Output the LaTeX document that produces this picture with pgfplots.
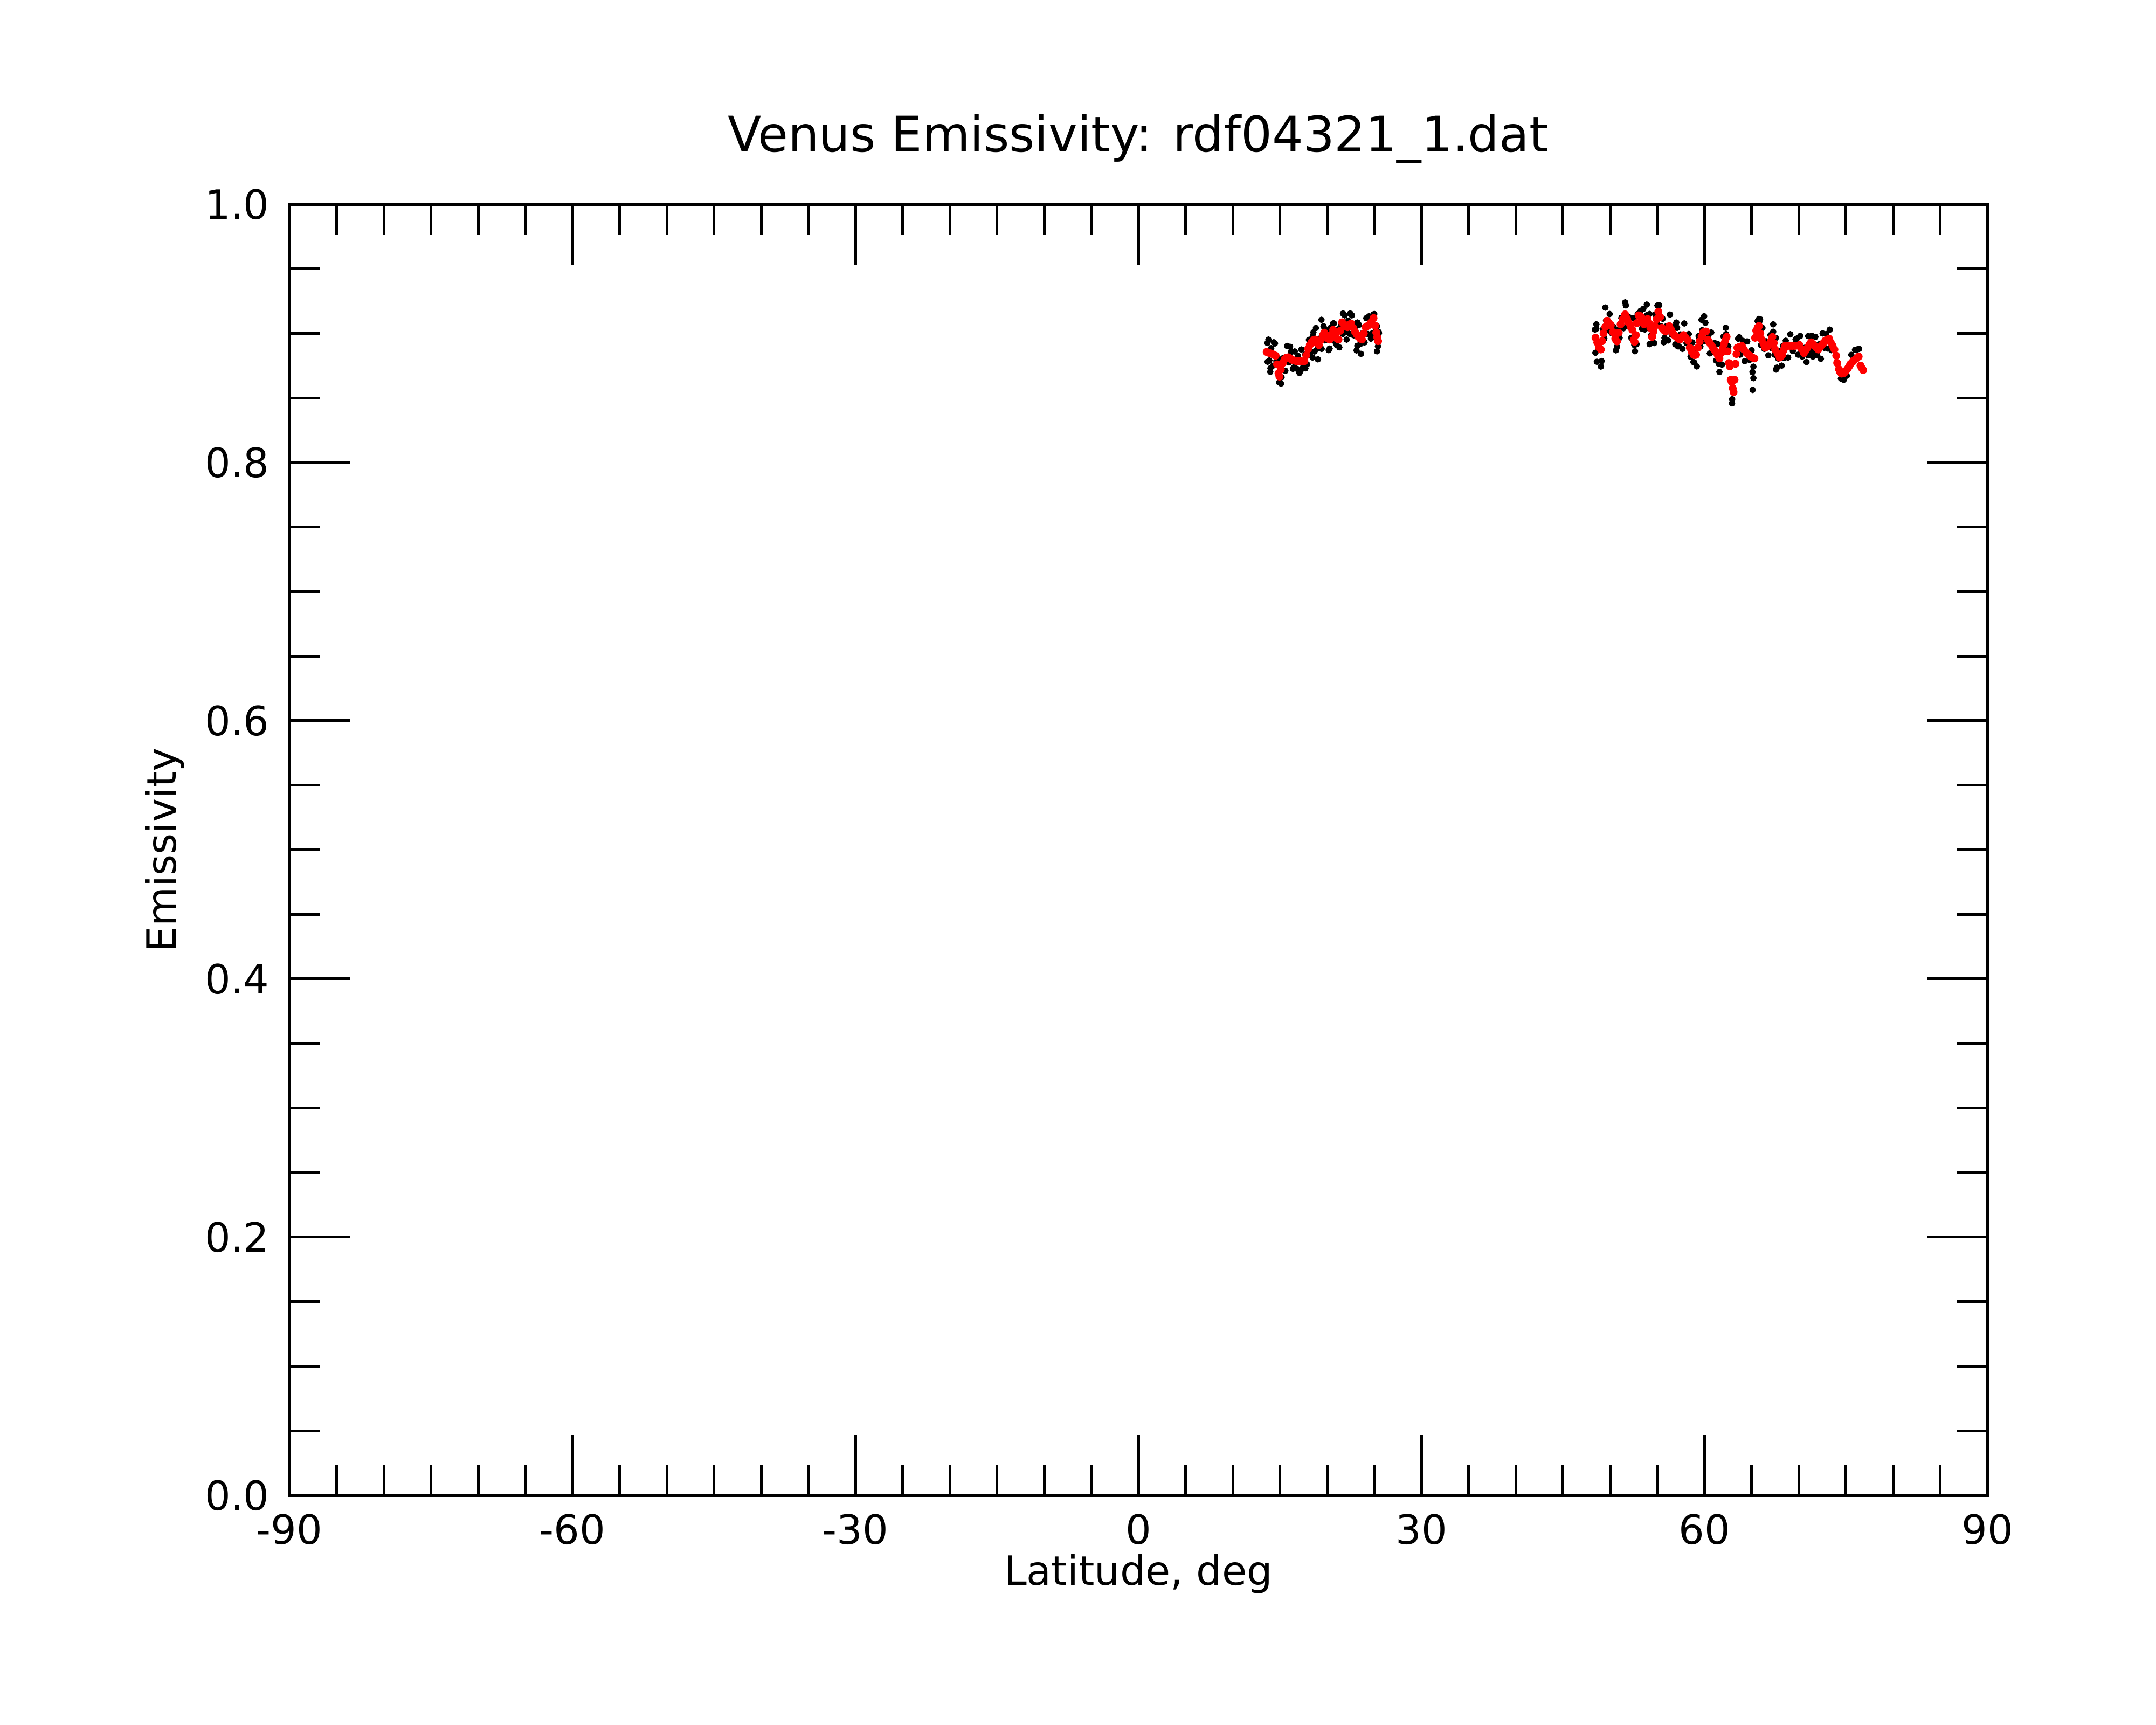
\documentclass[border=0pt]{standalone}
\usepackage{pgfplots}
\pgfplotsset{compat=1.18}
\usepackage{fontspec}
\setmainfont{DejaVu Sans}
\begin{document}
\begin{tikzpicture}
\useasboundingbox (0,0) rectangle (400pt,320pt);
\begin{axis}[
  at={(53.7pt,42.6pt)}, anchor=south west,
  scale only axis, width=315pt, height=239.5pt,
  xmin=-90, xmax=90, ymin=0, ymax=1,
  xtick={-90,-60,-30,0,30,60,90},
  xticklabels={-90,-60,-30,0,30,60,90},
  ytick={0,0.2,0.4,0.6,0.8,1.0},
  yticklabels={0.0,0.2,0.4,0.6,0.8,1.0},
  minor x tick num=5, minor y tick num=3,
  tick align=inside,
  major tick length=11.2pt, minor tick length=5.7pt,
  axis line style={line width=0.6pt},
  every tick/.style={line width=0.5pt, black},
  tick label style={font=\fontsize{7.5}{9}\selectfont},
  yticklabel style={xshift=-0.2pt},
  xlabel={Latitude, deg}, ylabel={Emissivity},
  label style={font=\fontsize{7.5}{9}\selectfont},
  xlabel style={at={(axis description cs:0.5,-0.0697)}, anchor=base},
  ylabel style={at={(axis description cs:-0.0667,0.5)}, anchor=base, rotate=0},
  every axis title shift=0pt,
  title={Venus Emissivity: rdf04321\_1.dat},
  title style={at={(axis description cs:0.5,1.0405)}, anchor=base, font=\fontsize{9.1}{11}\selectfont},
  clip=false,
]
% raw data (black)
\addplot[black, only marks, mark=*, mark size=0.55pt, mark options={draw=black, fill=black, line width=0.1pt}] coordinates {
(13.68,0.8926)(13.88,0.8790)(14.08,0.8885)(14.28,0.8750)(14.48,0.8922)(14.63,0.8787)(14.78,0.8810)(14.93,0.8620)
(15.03,0.8735)(15.18,0.8660)(15.39,0.8810)(15.58,0.8710)(15.78,0.8902)(15.97,0.8775)(16.18,0.8855)(16.38,0.8725)
(16.58,0.8860)(16.78,0.8726)(16.92,0.8825)(17.08,0.8693)(17.28,0.8875)(17.48,0.8742)(17.68,0.8835)(17.88,0.8760)
(18.08,0.8950)(18.25,0.8850)(18.48,0.8975)(18.68,0.8860)(18.82,0.9042)(19.03,0.8885)(19.21,0.8960)(19.43,0.8880)
(19.63,0.9055)(19.78,0.8946)(19.98,0.9025)(20.18,0.8870)(20.35,0.9042)(20.53,0.8950)(20.73,0.9077)(20.93,0.8925)
(21.13,0.9030)(21.30,0.8892)(21.48,0.9060)(21.68,0.8996)(21.88,0.9140)(22.08,0.9015)(22.25,0.9098)(22.43,0.8995)
(22.63,0.9140)(22.83,0.8985)(23.03,0.9055)(23.21,0.8904)(23.38,0.9065)(23.58,0.8920)(23.78,0.9002)(23.98,0.8930)
(24.16,0.9118)(24.33,0.8995)(24.54,0.9105)(24.78,0.9000)(25.01,0.9150)(25.18,0.9020)(25.30,0.9056)(25.40,0.8900)
(25.49,0.9010)
(13.79,0.8952)(14.36,0.8931)(13.98,0.8702)(15.12,0.8611)(16.08,0.8896)(16.46,0.8736)(17.22,0.8715)(17.70,0.8729)
(18.55,0.9008)(18.46,0.8813)(19.03,0.8799)(19.41,0.9105)(20.27,0.8882)(20.65,0.9077)(21.03,0.8910)(21.70,0.9154)
(22.46,0.9154)(22.08,0.8952)(23.22,0.9084)(23.13,0.8868)(23.60,0.8841)(24.65,0.8959)(24.46,0.9133)(24.93,0.9147)
(25.50,0.9001)(25.30,0.8861)(13.70,0.8780)(14.00,0.8730)
(48.54,0.9036)(48.73,0.8870)(48.92,0.8929)(49.11,0.8785)(49.25,0.9030)(49.39,0.8961)(49.58,0.9100)(49.77,0.9028)
(49.96,0.9150)(50.16,0.9003)(50.38,0.9050)(50.63,0.8869)(50.82,0.9028)(51.01,0.8965)(51.20,0.9120)(51.43,0.9040)
(51.68,0.9217)(51.88,0.9055)(52.06,0.9124)(52.25,0.8965)(52.44,0.9119)(52.58,0.8910)(52.68,0.8985)(52.82,0.8917)
(52.93,0.9150)(53.11,0.9080)(53.25,0.9175)(53.39,0.9036)(53.53,0.9190)(53.68,0.9030)(53.88,0.9140)(54.06,0.9042)
(54.20,0.9150)(54.35,0.8983)(54.54,0.9013)(54.68,0.8925)(54.82,0.9146)(55.01,0.9070)(55.20,0.9218)(55.39,0.9056)
(55.58,0.9113)(55.78,0.8965)(55.97,0.9055)(56.16,0.8945)(56.35,0.9146)(56.54,0.8990)(56.73,0.9051)(56.92,0.8915)
(57.11,0.9043)(57.30,0.8900)(57.49,0.8992)(57.68,0.8880)(57.87,0.9077)(58.11,0.8925)(58.35,0.8995)(58.54,0.8819)
(58.73,0.8930)(58.92,0.8774)(59.08,0.8872)(59.20,0.8744)(59.39,0.8979)(59.58,0.8898)(59.78,0.9025)(59.97,0.8938)
(60.11,0.9082)(60.25,0.8955)(60.44,0.8992)(60.58,0.8845)(60.73,0.9007)(60.93,0.8855)(61.11,0.8925)(61.25,0.8790)
(61.39,0.8918)(61.53,0.8765)(61.68,0.8846)(61.87,0.8758)(62.03,0.8975)(62.16,0.8877)(62.30,0.8995)(62.44,0.8903)
(62.54,0.8900)
(63.58,0.8959)(63.78,0.8835)(64.06,0.8943)(64.28,0.8785)(64.54,0.8938)(64.78,0.8794)(65.01,0.8870)(65.20,0.8742)
(65.65,0.9095)(65.87,0.9097)(66.01,0.8910)(66.16,0.9042)(66.35,0.8880)(66.54,0.8939)(66.78,0.8830)(67.01,0.8987)
(67.16,0.8885)(67.30,0.9013)(67.44,0.8835)(67.58,0.8965)(67.83,0.8805)(68.06,0.8863)(68.20,0.8750)(68.35,0.8904)
(68.48,0.8810)(68.63,0.8943)(68.88,0.8813)(69.11,0.8993)(69.38,0.8863)(69.68,0.8953)(69.93,0.8835)(70.16,0.8980)
(70.38,0.8820)(70.63,0.8888)(70.83,0.8778)(71.01,0.8979)(71.20,0.8870)(71.39,0.8981)(71.58,0.8847)(71.77,0.8973)
(71.96,0.8830)(72.16,0.8915)(72.35,0.8803)(72.54,0.9000)(72.73,0.8888)(72.92,0.8995)(73.11,0.8882)(73.30,0.9029)
(73.48,0.8870)(74.48,0.8650)(74.78,0.8640)(75.11,0.8672)(75.58,0.8834)(75.97,0.8872)(76.20,0.8876)
(49.03,0.8743)(48.55,0.9070)(49.50,0.9200)(51.60,0.9240)(53.90,0.9223)(55.03,0.9216)(52.65,0.8862)(50.74,0.8896)
(54.20,0.8917)(55.70,0.8931)(59.98,0.9133)(59.70,0.9105)(58.84,0.8778)(61.60,0.8701)(62.27,0.9043)
(62.93,0.8458)(62.95,0.8490)(57.03,0.9084)(57.20,0.8900)(48.40,0.9030)(48.45,0.8850)(48.60,0.8780)
(65.12,0.8562)(65.20,0.8653)(65.10,0.8700)(65.79,0.9112)(65.90,0.9110)(67.30,0.9070)(67.60,0.8720)(67.70,0.8735)
(63.70,0.8970)(76.10,0.8870)(76.40,0.8880)(69.80,0.8960)(71.00,0.8830)(71.50,0.8820)
};
% smoothed (red)
\addplot[red, only marks, mark=*, mark size=0.68pt, mark options={draw=red, fill=red, line width=0.1pt}] coordinates {
(13.60,0.8856)(13.80,0.8850)(14.00,0.8845)(14.20,0.8840)(14.40,0.8832)(14.55,0.8827)(14.70,0.8760)(14.85,0.8690)
(14.95,0.8665)(15.10,0.8720)(15.31,0.8770)(15.50,0.8800)(15.70,0.8812)(15.89,0.8815)(16.10,0.8805)(16.30,0.8795)
(16.50,0.8790)(16.70,0.8786)(16.84,0.8785)(17.00,0.8783)(17.20,0.8785)(17.40,0.8782)(17.60,0.8785)(17.80,0.8830)
(18.00,0.8880)(18.17,0.8910)(18.40,0.8935)(18.60,0.8950)(18.74,0.8952)(18.95,0.8925)(19.13,0.8910)(19.35,0.8950)
(19.55,0.8985)(19.70,0.9006)(19.90,0.8985)(20.10,0.8960)(20.27,0.8952)(20.45,0.8990)(20.65,0.9027)(20.85,0.8995)
(21.05,0.8960)(21.22,0.8952)(21.40,0.9020)(21.60,0.9086)(21.80,0.9070)(22.00,0.9055)(22.17,0.9048)(22.35,0.9065)
(22.55,0.9077)(22.75,0.9045)(22.95,0.9015)(23.13,0.8994)(23.30,0.8975)(23.50,0.8960)(23.70,0.8952)(23.90,0.9000)
(24.08,0.9048)(24.25,0.9055)(24.46,0.9065)(24.70,0.9090)(24.93,0.9119)(25.10,0.9060)(25.22,0.9006)(25.32,0.8970)
(25.41,0.8940)
(48.46,0.8966)(48.65,0.8930)(48.84,0.8889)(49.03,0.8875)(49.17,0.8940)(49.31,0.9001)(49.50,0.9050)(49.69,0.9098)
(49.88,0.9080)(50.08,0.9063)(50.30,0.9010)(50.55,0.8959)(50.74,0.8938)(50.93,0.9005)(51.12,0.9070)(51.35,0.9110)
(51.60,0.9147)(51.80,0.9115)(51.98,0.9084)(52.17,0.9055)(52.36,0.9029)(52.50,0.8950)(52.60,0.8935)(52.74,0.8987)
(52.85,0.9080)(53.03,0.9140)(53.17,0.9135)(53.31,0.9126)(53.45,0.9100)(53.60,0.9070)(53.80,0.9090)(53.98,0.9112)
(54.12,0.9080)(54.27,0.9043)(54.46,0.8973)(54.60,0.9015)(54.74,0.9056)(54.93,0.9110)(55.12,0.9168)(55.31,0.9126)
(55.50,0.9043)(55.70,0.9025)(55.89,0.9015)(56.08,0.9035)(56.27,0.9056)(56.46,0.9030)(56.65,0.9001)(56.84,0.8985)
(57.03,0.8973)(57.22,0.8960)(57.41,0.8952)(57.60,0.8970)(57.79,0.8987)(58.03,0.8965)(58.27,0.8945)(58.46,0.8889)
(58.65,0.8860)(58.84,0.8834)(59.00,0.8832)(59.12,0.8834)(59.31,0.8889)(59.50,0.8938)(59.70,0.8975)(59.89,0.9008)
(60.03,0.9012)(60.17,0.9015)(60.36,0.8952)(60.50,0.8935)(60.65,0.8917)(60.85,0.8895)(61.03,0.8875)(61.17,0.8860)
(61.31,0.8848)(61.45,0.8825)(61.60,0.8806)(61.79,0.8848)(61.95,0.8885)(62.08,0.8917)(62.22,0.8945)(62.36,0.8973)
(62.46,0.8861)(62.60,0.8770)(62.70,0.8745)(62.80,0.8640)(62.90,0.8625)(63.00,0.8575)(63.10,0.8545)(63.20,0.8640)
(63.30,0.8764)(63.40,0.8840)(63.50,0.8889)(63.70,0.8895)(63.98,0.8903)(64.20,0.8875)(64.46,0.8848)(64.70,0.8834)
(64.93,0.8820)(65.12,0.8812)(65.31,0.8806)(65.38,0.8966)(65.50,0.9022)(65.65,0.9045)(65.79,0.9057)(65.93,0.9000)
(66.08,0.8952)(66.27,0.8920)(66.46,0.8889)(66.70,0.8900)(66.93,0.8917)(67.08,0.8945)(67.22,0.8973)(67.36,0.8925)
(67.50,0.8875)(67.75,0.8845)(67.98,0.8813)(68.12,0.8820)(68.27,0.8834)(68.40,0.8870)(68.55,0.8903)(68.80,0.8903)
(69.03,0.8903)(69.30,0.8903)(69.60,0.8903)(69.85,0.8905)(70.08,0.8910)(70.30,0.8880)(70.55,0.8848)(70.75,0.8868)
(70.93,0.8889)(71.12,0.8910)(71.31,0.8931)(71.50,0.8917)(71.69,0.8903)(71.88,0.8890)(72.08,0.8875)(72.27,0.8893)
(72.46,0.8910)(72.65,0.8928)(72.84,0.8945)(73.03,0.8952)(73.22,0.8959)(73.40,0.8930)(73.60,0.8903)(73.79,0.8875)
(73.98,0.8827)(74.08,0.8771)(74.27,0.8722)(74.40,0.8700)(74.55,0.8688)(74.70,0.8690)(74.84,0.8694)(75.03,0.8712)
(75.22,0.8729)(75.36,0.8746)(75.50,0.8764)(75.70,0.8778)(75.89,0.8792)(76.12,0.8806)(76.36,0.8820)(76.55,0.8750)
(76.70,0.8730)(76.84,0.8715)
};
\end{axis}
\end{tikzpicture}
\end{document}
